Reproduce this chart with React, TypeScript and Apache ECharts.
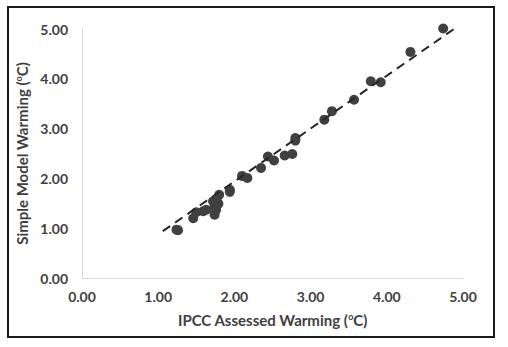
import React, { useEffect, useRef } from "react";
import * as echarts from "echarts";

const ipccWarming = [
  1.24, 1.26, 1.46, 1.50, 1.59, 1.63, 1.74, 1.74, 1.76, 1.78, 1.72, 1.80, 1.79,
  1.94, 1.94, 2.10, 2.17, 2.35, 2.44, 2.52, 2.66, 2.76, 2.80, 2.80, 3.18, 3.28,
  3.57, 3.79, 3.92, 4.31, 4.74,
];
const modelWarming = [
  0.97, 0.96, 1.20, 1.32, 1.34, 1.37, 1.27, 1.44, 1.37, 1.51, 1.54, 1.67, 1.49,
  1.77, 1.73, 2.05, 2.01, 2.21, 2.44, 2.36, 2.46, 2.49, 2.76, 2.81, 3.18, 3.35,
  3.58, 3.95, 3.93, 4.54, 5.01,
];
const trendX = [1.06, 4.91];
const trendY = [0.94, 5.03];
const tickLabels = ["0.00", "1.00", "2.00", "3.00", "4.00", "5.00"];

const FONT = "Lato";

export default function App() {
  const ref = useRef<HTMLDivElement>(null);
  useEffect(() => {
    document.body.style.margin = "0";
    const chart = echarts.init(ref.current!, undefined, { renderer: "svg" });
    const labelStyle = {
      color: "#404040",
      fontFamily: FONT,
      fontWeight: "bold" as const,
      fontSize: 14,
    };
    const titleRich = {
      a: { color: "#404040", fontFamily: FONT, fontWeight: "bold" as const, fontSize: 15 },
      s: {
        color: "#404040",
        fontFamily: FONT,
        fontWeight: "bold" as const,
        fontSize: 9,
        verticalAlign: "top" as const,
        padding: [0, 0, 6, 0],
      },
    };
    chart.setOption({
      animation: false,
      grid: { left: 82, right: 45, top: 29, bottom: 69 },
      graphic: [
        {
          type: "rect",
          shape: { x: 8, y: 7, width: 486, height: 330 },
          style: { fill: "none", stroke: "#1a1a1a", lineWidth: 2 },
          silent: true,
        },
      ],
      xAxis: {
        type: "value",
        min: 0,
        max: 5,
        interval: 1,
        name: "{a|IPCC Assessed Warming (}{s|o}{a|C)}",
        nameLocation: "middle",
        nameGap: 34,
        nameTextStyle: { rich: titleRich },
        axisLine: { show: true, lineStyle: { color: "#d9d9d9", width: 1 } },
        axisTick: { show: false },
        splitLine: { show: false },
        axisLabel: {
          ...labelStyle,
          margin: 11,
          formatter: (v: number) => tickLabels[Math.round(v)],
        },
      },
      yAxis: {
        type: "value",
        min: 0,
        max: 5,
        interval: 1,
        name: "{a|Simple Model Warming (}{s|o}{a|C)}",
        nameLocation: "middle",
        nameGap: 50,
        nameRotate: 90,
        nameTextStyle: { rich: titleRich },
        axisLine: { show: true, lineStyle: { color: "#d9d9d9", width: 1 } },
        axisTick: { show: false },
        splitLine: { show: false },
        axisLabel: {
          ...labelStyle,
          margin: 14,
          formatter: (v: number) => tickLabels[Math.round(v)],
        },
      },
      series: [
        {
          type: "line",
          data: trendX.map((x, i) => [x, trendY[i]]),
          showSymbol: false,
          symbol: "none",
          lineStyle: { color: "#262626", width: 2, type: [9, 6] },
          silent: true,
          clip: false,
          z: 3,
        },
        {
          type: "scatter",
          data: ipccWarming.map((x, i) => [x, modelWarming[i]]),
          symbolSize: 10,
          clip: false,
          itemStyle: { color: "#404040", opacity: 1 },
          z: 2,
        },
      ],
    });
    return () => chart.dispose();
  }, []);
  return <div ref={ref} style={{ width: 508, height: 347 }} />;
}
